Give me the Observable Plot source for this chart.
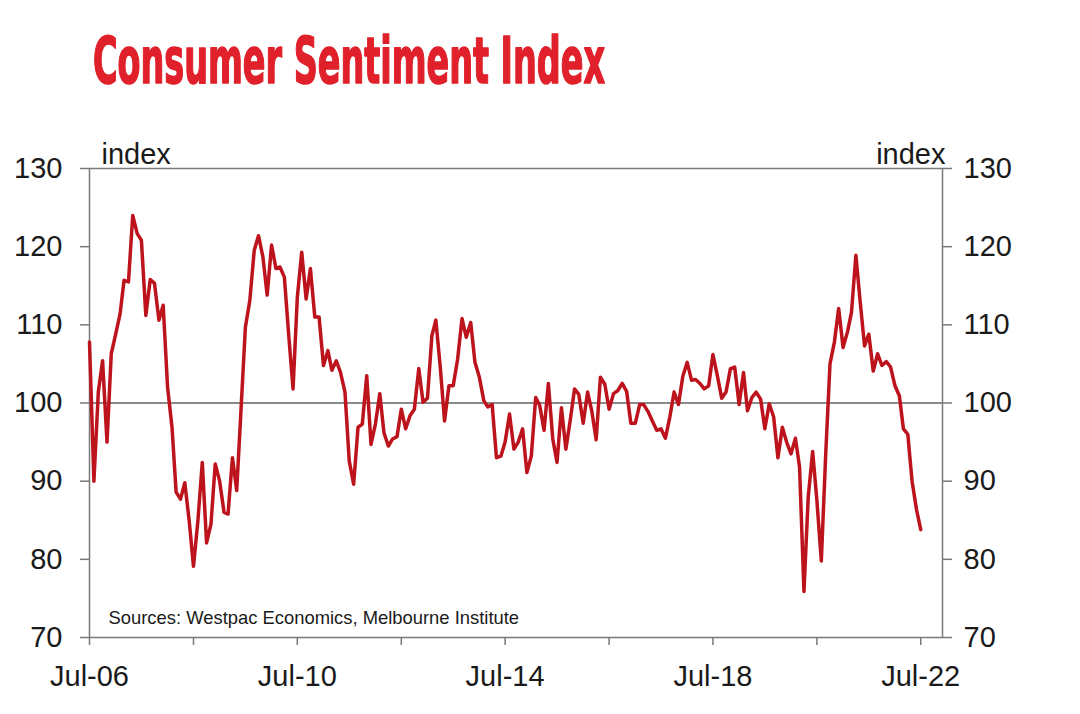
<!DOCTYPE html>
<html><head><meta charset="utf-8">
<script src="https://cdn.jsdelivr.net/npm/d3@7"></script>
<script src="https://cdn.jsdelivr.net/npm/@observablehq/plot@0.6"></script>
<style>
html,body{margin:0;padding:0;background:#fff;width:1080px;height:714px;overflow:hidden}
#title{display:block}
#chart svg{display:block}
</style></head><body>
<svg id="title" width="1080" height="100"><text x="93" y="83" textLength="512" lengthAdjust="spacingAndGlyphs" font-family="'DejaVu Sans Condensed', 'DejaVu Sans', sans-serif" font-weight="bold" font-size="64" fill="#e0202a" stroke="#e0202a" stroke-width="1.6" stroke-linejoin="round">Consumer Sentiment Index</text></svg>
<div id="chart"></div>
<script>
const startMonth = "2006-07-01";
const sentiment = [
107.8,90.0,101.4,105.4,95.0,106.3,108.8,111.4,115.7,115.5,124.0,121.7,
120.8,111.2,115.8,115.3,110.6,112.5,102.0,96.9,88.6,87.7,89.8,84.9,
79.1,84.9,92.4,82.1,84.5,92.2,90.0,86.0,85.8,93.0,88.8,99.4,
109.7,113.1,119.5,121.4,118.7,113.8,120.2,117.2,117.4,116.1,108.8,101.8,
113.5,119.3,113.3,117.2,111.0,111.0,104.8,106.7,104.2,105.4,103.9,101.4,
92.6,89.6,96.9,97.3,103.5,94.7,97.3,101.2,96.2,94.5,95.4,95.7,
99.2,96.7,98.4,99.2,104.4,100.1,100.6,108.6,110.6,104.6,97.7,102.2,
102.2,105.6,110.8,108.4,110.3,105.2,103.3,100.3,99.5,99.8,93.0,93.2,
95.0,98.6,94.1,95.0,96.7,91.1,93.2,100.7,99.7,96.5,102.5,95.4,
92.4,99.4,94.1,97.7,101.8,101.1,97.4,101.4,99.0,95.3,103.3,102.4,
99.2,101.2,101.6,102.5,101.5,97.4,97.4,99.8,99.8,98.9,97.7,96.5,
96.7,95.5,98.2,101.4,99.8,103.4,105.2,102.9,103.0,102.5,101.8,102.2,
106.2,103.5,100.6,101.4,104.4,104.6,99.8,103.9,99.0,100.7,101.4,100.5,
96.7,99.9,98.2,93.0,96.9,95.0,93.5,95.5,91.8,75.9,88.0,93.8,
87.5,79.8,93.5,105.0,107.8,112.1,107.1,109.1,111.6,118.9,113.0,107.3,
108.8,104.1,106.3,104.8,105.3,104.6,102.2,100.9,96.7,96.0,90.0,86.4,
83.8
];
const xTickLabels = ["Jul-06","Jul-10","Jul-14","Jul-18","Jul-22"];
const yTicks = [70,80,90,100,110,120,130];
const axisUnit = "index";
const sourceNote = "Sources: Westpac Economics, Melbourne Institute";

const start = new Date(startMonth);
const data = sentiment.map((v, i) => ({date: d3.utcMonth.offset(start, i), value: v}));
const parseLabel = d3.utcParse("%b-%y");
const labelDates = xTickLabels.map(parseLabel);
const tickDates = d3.range(0, sentiment.length, 24).map(i => d3.utcMonth.offset(start, i));

const chart = Plot.plot({
  width: 1080,
  height: 614,
  marginTop: 68,
  marginBottom: 77,
  marginLeft: 89,
  marginRight: 138,
  style: {fontFamily: "'Liberation Sans', Arial, sans-serif", fontSize: "29px", color: "#1a1a1a", background: "#fff"},
  x: {type: "utc", domain: [start, d3.utcMonth.offset(start, 197)], label: null},
  y: {domain: [70, 130], label: null},
  marks: [
    Plot.ruleY([100], {stroke: "#8a8a8a", strokeWidth: 2}),
    Plot.frame({stroke: "#7a7a7a", strokeWidth: 1.5}),
    Plot.axisX(tickDates, {tickSize: 8, tickFormat: () => "", stroke: "#7a7a7a", strokeWidth: 1.5}),
    Plot.axisX(labelDates, {tickSize: 0, tickPadding: 28, tickFormat: d3.utcFormat("%b-%y"), fontSize: 29}),
    Plot.axisY(yTicks, {anchor: "left", tickSize: 9, tickPadding: 18, stroke: "#7a7a7a", strokeWidth: 1.5, fontSize: 29}),
    Plot.axisY(yTicks, {anchor: "right", tickSize: 9, tickPadding: 12, stroke: "#7a7a7a", strokeWidth: 1.5, fontSize: 29}),
    Plot.text([axisUnit], {text: d => d, frameAnchor: "top-left", dx: 12, dy: -5, lineAnchor: "bottom", textAnchor: "start", fontSize: 29}),
    Plot.text([axisUnit], {text: d => d, frameAnchor: "top-right", dx: 3, dy: -5, lineAnchor: "bottom", textAnchor: "end", fontSize: 29}),
    Plot.text([sourceNote], {text: d => d, frameAnchor: "bottom-left", dx: 19, dy: -14, lineAnchor: "bottom", textAnchor: "start", fontSize: 18.4}),
    Plot.lineY(data, {x: "date", y: "value", stroke: "#bd131c", strokeWidth: 3.5, strokeLinejoin: "round"})
  ]
});
document.getElementById("chart").appendChild(chart);
</script>
</body></html>
